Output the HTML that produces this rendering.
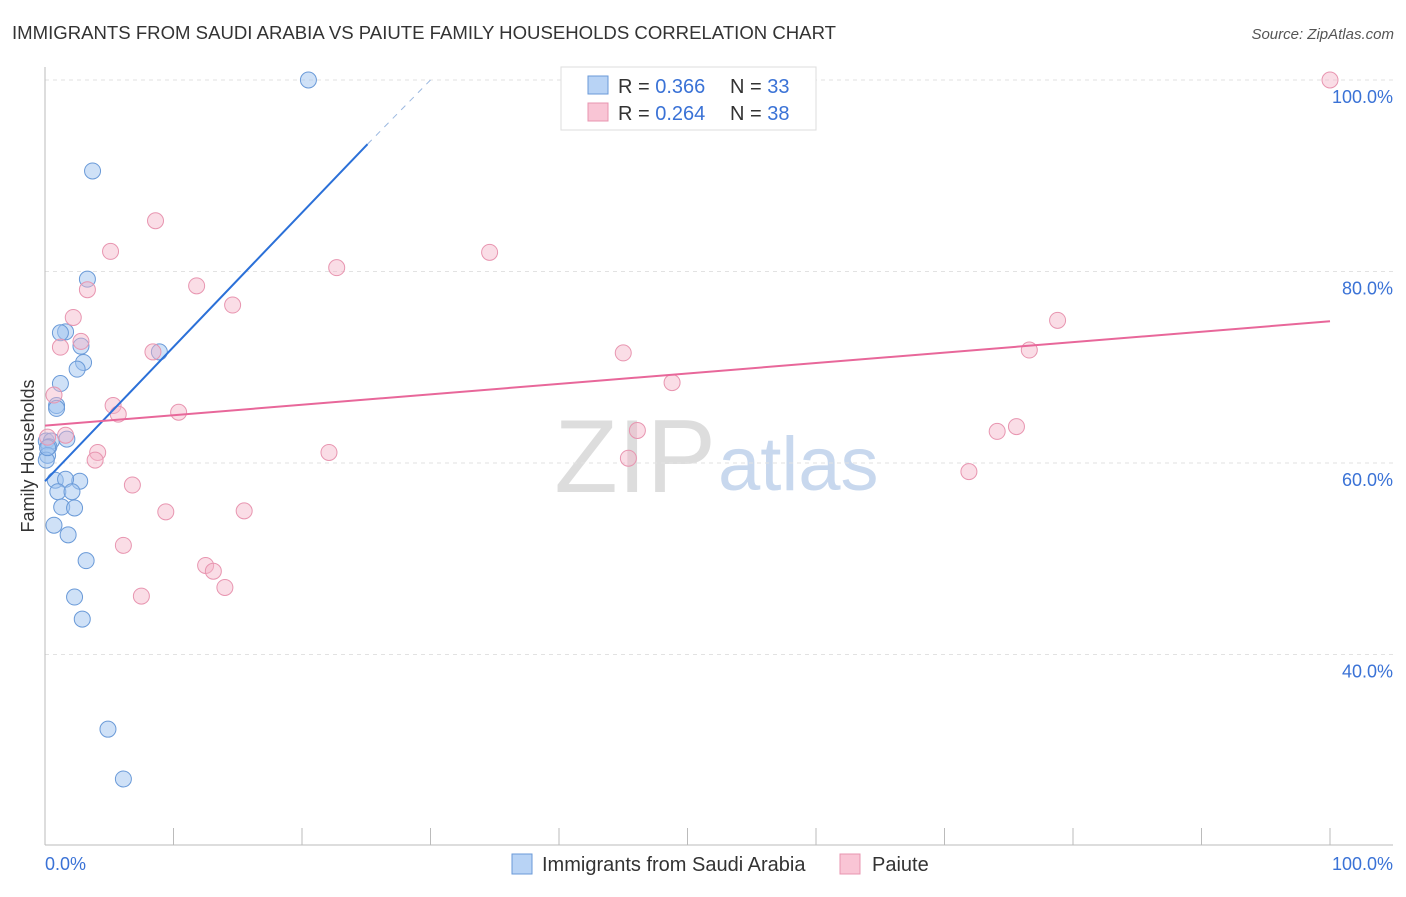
<!DOCTYPE html>
<html><head><meta charset="utf-8"><style>
body{margin:0;background:#fff;font-family:"Liberation Sans",sans-serif}
svg text{font-family:"Liberation Sans",sans-serif}
</style></head><body>
<svg id="c" width="1406" height="892">
<text x="12" y="39" font-size="18" fill="#333" textLength="824" lengthAdjust="spacingAndGlyphs">IMMIGRANTS FROM SAUDI ARABIA VS PAIUTE FAMILY HOUSEHOLDS CORRELATION CHART</text>
<text x="1394" y="39" font-size="15" fill="#555" font-style="italic" text-anchor="end">Source: ZipAtlas.com</text>
<text x="716" y="492" font-size="104" fill="#ddd" font-family="Liberation Serif" text-anchor="end">ZIP</text>
<text x="718" y="490" font-size="76" fill="#c8d8ee">atlas</text>
<text transform="translate(34,456) rotate(-90)" font-size="18" fill="#333" text-anchor="middle">Family Households</text>
<g id="grid"></g><g id="marks"></g>
<g>
<rect x="561" y="67" width="255" height="63" fill="#fff" stroke="#ddd"/>
<rect x="588" y="76" width="20" height="18" fill="#b8d3f5" stroke="#6a9ad8"/>
<rect x="588" y="103" width="20" height="18" fill="#f9c5d5" stroke="#e895b0"/>
<text x="618" y="93" font-size="20" fill="#333">R = <tspan fill="#3a72d6">0.366</tspan></text>
<text x="730" y="93" font-size="20" fill="#333">N = <tspan fill="#3a72d6">33</tspan></text>
<text x="618" y="120" font-size="20" fill="#333">R = <tspan fill="#3a72d6">0.264</tspan></text>
<text x="730" y="120" font-size="20" fill="#333">N = <tspan fill="#3a72d6">38</tspan></text>
</g>
<g>
<rect x="512" y="854" width="20" height="20" fill="#b8d3f5" stroke="#6a9ad8"/>
<text x="542" y="871" font-size="20" fill="#333">Immigrants from Saudi Arabia</text>
<rect x="840" y="854" width="20" height="20" fill="#f9c5d5" stroke="#e895b0"/>
<text x="872" y="871" font-size="20" fill="#333">Paiute</text>
</g>
</svg>
<script>
const blueX=[20.5,3.7,3.3,1.6,1.2,2.8,3.0,2.5,1.2,0.9,0.9,8.9,0.1,0.5,0.3,0.2,0.1,0.8,2.7,1.6,1.0,2.1,1.3,2.3,1.8,0.7,3.2,2.3,2.9,4.9,6.1,1.7,0.2];
const blueY=[100,90.5,79.2,73.7,73.6,72.2,70.5,69.8,68.3,66.0,65.7,71.6,62.3,62.3,61.7,60.8,60.3,58.2,58.1,58.3,57.0,57.0,55.4,55.3,52.5,53.5,49.8,46.0,43.7,32.2,27.0,62.5,61.6];
const pinkX=[100,8.6,5.1,34.6,22.7,11.8,3.3,14.6,2.2,2.8,1.2,8.4,45.0,76.6,78.8,48.8,0.7,5.3,5.7,10.4,1.6,0.2,4.1,3.9,22.1,46.1,45.4,75.6,74.1,71.9,6.8,9.4,15.5,6.1,12.5,13.1,7.5,14.0];
const pinkY=[100,85.3,82.1,82.0,80.4,78.5,78.1,76.5,75.2,72.7,72.1,71.6,71.5,71.8,74.9,68.4,67.1,66.0,65.1,65.3,62.9,62.7,61.1,60.3,61.1,63.4,60.5,63.8,63.3,59.1,57.7,54.9,55.0,51.4,49.3,48.7,46.1,47.0];
const blueTrend=[58.1,93.3,100];const blueTrendX=[0,25.1,30];
const pinkTrend=[63.9,74.8];const pinkTrendX=[0,100];
const yTicks=[100,80,60,40];const yTickLabels=["100.0%","80.0%","60.0%","40.0%"];
const xTickLabels=["0.0%","100.0%"];
const sx=v=>45+v*12.85, sy=v=>80+(100-v)*9.575;
const NS="http://www.w3.org/2000/svg";
function mk(t,a,p){const e=document.createElementNS(NS,t);for(const k in a)e.setAttribute(k,a[k]);p.appendChild(e);return e;}
const g=document.getElementById('grid'), m=document.getElementById('marks');
yTicks.forEach((t,i)=>{
 const l=mk('line',{x1:45,x2:1393,y1:sy(t),y2:sy(t),stroke:'#e2e2e2','stroke-dasharray':'4,4'},g);
 
 
 const tx=mk('text',{x:1393,y:sy(t)+23,'font-size':18,fill:'#3a72d6','text-anchor':'end'},g);tx.textContent=yTickLabels[i];
 
 
});
mk('line',{x1:45,x2:45,y1:67,y2:845,stroke:'#bbb'},g);
mk('line',{x1:45,x2:1393,y1:845,y2:845,stroke:'#bbb'},g);
for(let i=0;i<=10;i++){const t=mk('line',{x1:sx(i*10),x2:sx(i*10),y1:828,y2:845,stroke:'#bbb'},g);
 
 }
[[0,'start',45],[1,'end',1393]].forEach(([i,a,x])=>{const t=mk('text',{x:x,y:870,'font-size':18,fill:'#3a72d6','text-anchor':a},g);t.textContent=xTickLabels[i];
 
 });
blueX.forEach((x,i)=>{const c=mk('circle',{cx:sx(x),cy:sy(blueY[i]),r:8,fill:'rgba(160,195,240,0.5)',stroke:'#6a9ad8','stroke-width':1},m);
 
 });
pinkX.forEach((x,i)=>{const c=mk('circle',{cx:sx(x),cy:sy(pinkY[i]),r:8,fill:'rgba(245,180,200,0.45)',stroke:'#e895b0','stroke-width':1},m);
 
 });
const b1=mk('line',{x1:sx(blueTrendX[0]),y1:sy(blueTrend[0]),x2:sx(blueTrendX[1]),y2:sy(blueTrend[1]),stroke:'#2b70d8','stroke-width':2},m);


const b2=mk('line',{x1:sx(blueTrendX[1]),y1:sy(blueTrend[1]),x2:sx(blueTrendX[2]),y2:sy(blueTrend[2]),stroke:'#9bb8e0','stroke-width':1,'stroke-dasharray':'6,6'},m);


const p1=mk('line',{x1:sx(pinkTrendX[0]),y1:sy(pinkTrend[0]),x2:sx(pinkTrendX[1]),y2:sy(pinkTrend[1]),stroke:'#e8679a','stroke-width':2},m);


</script>
</body></html>
